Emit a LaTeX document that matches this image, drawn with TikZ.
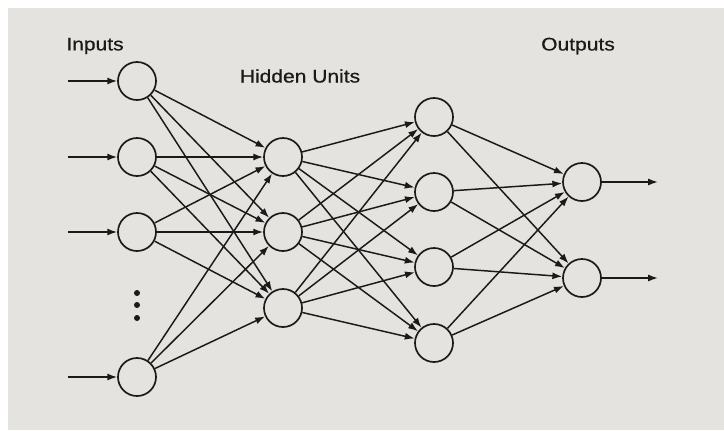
\documentclass[tikz,border=0pt]{standalone}
\usepackage{fontspec}
\usepackage{tikz}
\usetikzlibrary{arrows.meta}
\newfontfamily\labelfont[FakeStretch=1.15,FakeBold=0.6]{Liberation Sans}
\definecolor{ScanGray}{HTML}{E5E3DF}
\definecolor{InkBlack}{HTML}{1A1A1A}
\tikzset{
  unit/.style={circle,draw=InkBlack,line width=1.2pt,minimum size=0.95cm,inner sep=0pt},
  link/.style={draw=InkBlack,line width=1.05pt,-{Latex[length=7pt,width=5pt]}},
  layerlabel/.style={font=\labelfont\fontsize{13}{15}\selectfont,text=InkBlack}
}
\begin{document}
\begin{tikzpicture}[x=0.025cm,y=-0.025cm]
  \useasboundingbox (0,0) rectangle (724,430);
  \fill[white] (0,0) rectangle (724,430);
  \fill[ScanGray] (8,8) rectangle (724,430);

  \node[layerlabel] (inlabel) at (95,46) {Inputs};
  \node[layerlabel] (hidlabel) at (300,76) {Hidden Units};
  \node[layerlabel] (outlabel) at (578,46) {Outputs};

  \node[unit] (in1) at (137,81) {};
  \node[unit] (in2) at (137,157) {};
  \node[unit] (in3) at (137,232) {};
  \node[unit] (in4) at (137,377) {};

  \node[unit] (hA1) at (283,157) {};
  \node[unit] (hA2) at (283,232) {};
  \node[unit] (hA3) at (283,308) {};

  \node[unit] (hB1) at (434,117) {};
  \node[unit] (hB2) at (434,192) {};
  \node[unit] (hB3) at (434,267) {};
  \node[unit] (hB4) at (434,343) {};

  \node[unit] (out1) at (582,182) {};
  \node[unit] (out2) at (582,278) {};

  \fill[InkBlack] (137,293) circle (3) (137,305) circle (3) (137,318) circle (3);

  \foreach \i/\y in {1/81,2/157,3/232,4/377}
    \coordinate (src\i) at (68,\y);
  \foreach \i in {1,...,4}
    \draw[link] (src\i) -- (in\i);

  \foreach \i in {1,...,4}
    \foreach \j in {1,...,3}
      \draw[link] (in\i) -- (hA\j);
  \foreach \i in {1,...,3}
    \foreach \j in {1,...,4}
      \draw[link] (hA\i) -- (hB\j);
  \foreach \i in {1,...,4}
    \foreach \j in {1,2}
      \draw[link] (hB\i) -- (out\j);

  \coordinate (sink1) at (658,182);
  \coordinate (sink2) at (658,278);
  \draw[link] (out1) -- (sink1);
  \draw[link] (out2) -- (sink2);
\end{tikzpicture}
\end{document}
